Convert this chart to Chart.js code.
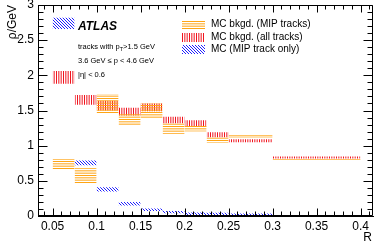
<!DOCTYPE html>
<html>
<head>
<meta charset="utf-8">
<script src="https://cdn.jsdelivr.net/npm/chart.js@4.4.1/dist/chart.umd.min.js"></script>
<style>
  html, body { margin: 0; padding: 0; background: #fff; }
  canvas { display: block; }
</style>
</head>
<body>
<canvas id="c" width="374" height="243"></canvas>
<script>
// ---- data ----
const binLo = [0.05, 0.075, 0.1, 0.125, 0.15, 0.175, 0.2, 0.225, 0.25, 0.3];
const binHi = [0.075, 0.1, 0.125, 0.15, 0.175, 0.2, 0.225, 0.25, 0.3, 0.4];
// MC bkgd. (MIP tracks)
const mipBkgLow  = [0.66, 0.47, 1.45, 1.28, 1.38, 1.17, 1.20, 1.04, 1.11, 0.797];
const mipBkgHigh = [0.81, 0.68, 1.73, 1.45, 1.60, 1.32, 1.28, 1.12, 1.16, 0.812];
// MC bkgd. (all tracks)
const allBkgLow  = [1.88, 1.58, 1.50, 1.43, 1.49, 1.32, 1.27, 1.12, 1.05, 0.818];
const allBkgHigh = [2.06, 1.72, 1.64, 1.54, 1.60, 1.41, 1.36, 1.19, 1.09, 0.845];
// MC (MIP track only)
const mipOnlyLow  = [2.66, 0.72, 0.35, 0.15, 0.07, 0.04, 0.015, 0.015, 0.01, 0.004];
const mipOnlyHigh = [2.82, 0.79, 0.41, 0.20, 0.105, 0.07, 0.05, 0.045, 0.035, 0.014];
const seriesNames = ["MC bkgd. (MIP tracks)", "MC bkgd. (all tracks)", "MC (MIP track only)"];
const xTicks = [0.05, 0.1, 0.15, 0.2, 0.25, 0.3, 0.35, 0.4];
const xTickLabels = ["0.05", "0.1", "0.15", "0.2", "0.25", "0.3", "0.35", "0.4"];
const yTicks = [0, 0.5, 1, 1.5, 2, 2.5, 3];
const yTickLabels = ["0", "0.5", "1", "1.5", "2", "2.5", "3"];

// ---- hatch patterns ----
function makePattern(kind) {
  const c = document.createElement('canvas');
  const g = c.getContext('2d');
  if (kind === 'h') {
    c.width = 7; c.height = 7;
    g.strokeStyle = 'rgb(255,165,20)'; g.lineWidth = 1;
    [0.5, 2.83, 5.17].forEach(y => { g.beginPath(); g.moveTo(0, y); g.lineTo(7, y); g.stroke(); });
  } else if (kind === 'v') {
    c.width = 7; c.height = 7;
    g.strokeStyle = 'rgb(240,20,30)'; g.lineWidth = 1;
    [0.5, 2.83, 5.17].forEach(x => { g.beginPath(); g.moveTo(x, 0); g.lineTo(x, 7); g.stroke(); });
  } else {
    c.width = 6; c.height = 6;
    g.strokeStyle = 'rgb(30,30,255)'; g.lineWidth = 1;
    [-6, -3, 0, 3, 6].forEach(k => { g.beginPath(); g.moveTo(k, 0); g.lineTo(k + 6, 6); g.stroke(); });
  }
  return g.createPattern(c, 'repeat');
}
const patterns = [makePattern('h'), makePattern('v'), makePattern('d')];

// ---- datasets: one filled band per bin ----
const seriesLow = [mipBkgLow, allBkgLow, mipOnlyLow];
const seriesHigh = [mipBkgHigh, allBkgHigh, mipOnlyHigh];
const datasets = [];
seriesLow.forEach((lowArr, s) => {
  lowArr.forEach((low, i) => {
    datasets.push({
      label: seriesNames[s],
      data: [{ x: binLo[i], y: seriesHigh[s][i] }, { x: binHi[i], y: seriesHigh[s][i] }],
      fill: { value: low },
      backgroundColor: patterns[s],
      borderColor: 'rgba(0,0,0,0)',
      borderWidth: 0,
      pointRadius: 0,
      pointHoverRadius: 0,
      tension: 0
    });
  });
});

const FONT = '"Liberation Sans", Arial, Helvetica, sans-serif';
const AXIS_COLOR = '#000';

function minorTicks(majors, min, max, nSub) {
  const step = majors[1] - majors[0];
  const sub = step / nSub;
  const out = [];
  for (let v = majors[0] - sub; v >= min - 1e-9; v -= sub) out.push(v);
  for (let j = 0; j < majors.length; j++) {
    for (let k = 1; k < nSub; k++) {
      const v = majors[j] + k * sub;
      if (v <= max + 1e-9) out.push(v);
    }
  }
  return out;
}

function drawFrame(chart) {
  const ctx = chart.ctx;
  const a = chart.chartArea;
  const xs = chart.scales.x, ys = chart.scales.y;
  const L = Math.floor(a.left) + 0.5, R = Math.ceil(a.right) - 0.5;
  const T = Math.floor(a.top) + 0.5, B = Math.ceil(a.bottom) - 0.5;
  ctx.save();
  ctx.strokeStyle = AXIS_COLOR;
  ctx.lineWidth = 1;
  ctx.setLineDash([]);
  ctx.beginPath();
  ctx.moveTo(L, T); ctx.lineTo(R, T); ctx.lineTo(R, B); ctx.lineTo(L, B); ctx.closePath();
  const xMin = minorTicks(xTicks, xs.min, xs.max, 5);
  xTicks.forEach(v => { const p = Math.round(xs.getPixelForValue(v)) + 0.5;
    ctx.moveTo(p, B); ctx.lineTo(p, B - 7); ctx.moveTo(p, T); ctx.lineTo(p, T + 7); });
  xMin.forEach(v => { const p = Math.round(xs.getPixelForValue(v)) + 0.5;
    ctx.moveTo(p, B); ctx.lineTo(p, B - 4); ctx.moveTo(p, T); ctx.lineTo(p, T + 4); });
  const yMin = minorTicks(yTicks, ys.min, ys.max, 5);
  yTicks.forEach(v => { const p = Math.round(ys.getPixelForValue(v)) + 0.5;
    ctx.moveTo(L, p); ctx.lineTo(L + 9, p); ctx.moveTo(R, p); ctx.lineTo(R - 9, p); });
  yMin.forEach(v => { const p = Math.round(ys.getPixelForValue(v)) + 0.5;
    ctx.moveTo(L, p); ctx.lineTo(L + 5, p); ctx.moveTo(R, p); ctx.lineTo(R - 5, p); });
  ctx.stroke();
  ctx.restore();
}

const decor = {
  id: 'decor',
  afterDraw(chart) {
    const ctx = chart.ctx;
    const a = chart.chartArea;
    drawFrame(chart);
    ctx.save();
    ctx.fillStyle = '#000';
    ctx.font = '12px ' + FONT;
    ctx.save();
    ctx.translate(13, a.top);
    ctx.rotate(-Math.PI / 2);
    ctx.textAlign = 'right';
    ctx.textBaseline = 'middle';
    ctx.fillText('ρ/GeV', 0, 0);
    ctx.restore();
    ctx.textAlign = 'right';
    ctx.textBaseline = 'middle';
    ctx.fillText('R', a.right - 1, 238);

    ctx.textAlign = 'left';
    ctx.font = 'italic bold 12px ' + FONT;
    ctx.fillText('ATLAS', 78, 26.5);

    ctx.font = '7.5px ' + FONT;
    let x = 78;
    const t1 = 'tracks with p';
    ctx.fillText(t1, x, 47); x += ctx.measureText(t1).width;
    ctx.font = '5.5px ' + FONT;
    ctx.fillText('T', x, 49); x += ctx.measureText('T').width;
    ctx.font = '7.5px ' + FONT;
    ctx.fillText('>1.5 GeV', x, 47);
    ctx.fillText('3.6 GeV ≤ p < 4.6 GeV', 78, 61);
    ctx.fillText('|η| < 0.6', 78, 75);

    ctx.font = '10px ' + FONT;
    const ly = [24.5, 37, 49.5];
    seriesNames.forEach((name, s) => {
      ctx.fillStyle = patterns[s];
      ctx.fillRect(182, Math.round(ly[s] - 4.5), 23, 9);
      ctx.fillStyle = '#000';
      ctx.fillText(name, 211, ly[s]);
    });
    ctx.restore();
  }
};

new Chart(document.getElementById('c'), {
  type: 'line',
  data: { datasets },
  options: {
    responsive: false,
    animation: false,
    devicePixelRatio: 1,
    layout: { padding: { top: 5, right: 1, left: 0, bottom: 0 } },
    plugins: { legend: { display: false }, tooltip: { enabled: false }, filler: { propagate: false } },
    scales: {
      x: {
        type: 'linear',
        min: 0.0334,
        max: 0.4141,
        afterBuildTicks: s => { s.ticks = xTicks.map(v => ({ value: v })); },
        afterFit: s => { s.height = 27; s.paddingLeft = 0; s.paddingRight = 0; },
        ticks: {
          callback: (v, i) => xTickLabels[i],
          font: { family: FONT, size: 12 },
          color: '#000',
          padding: 3,
          maxRotation: 0,
          autoSkip: false
        },
        grid: { display: false, drawTicks: false },
        border: { display: true, color: AXIS_COLOR, width: 1 }
      },
      y: {
        type: 'linear',
        min: 0,
        max: 3,
        afterBuildTicks: s => { s.ticks = yTicks.map(v => ({ value: v })); },
        afterFit: s => { s.width = 38; s.paddingTop = 0; s.paddingBottom = 0; },
        ticks: {
          callback: (v, i) => yTickLabels[i],
          font: { family: FONT, size: 12 },
          color: '#000',
          padding: 4,
          autoSkip: false
        },
        grid: { display: false, drawTicks: false },
        border: { display: true, color: AXIS_COLOR, width: 1 }
      }
    }
  },
  plugins: [decor]
});
</script>
</body>
</html>
